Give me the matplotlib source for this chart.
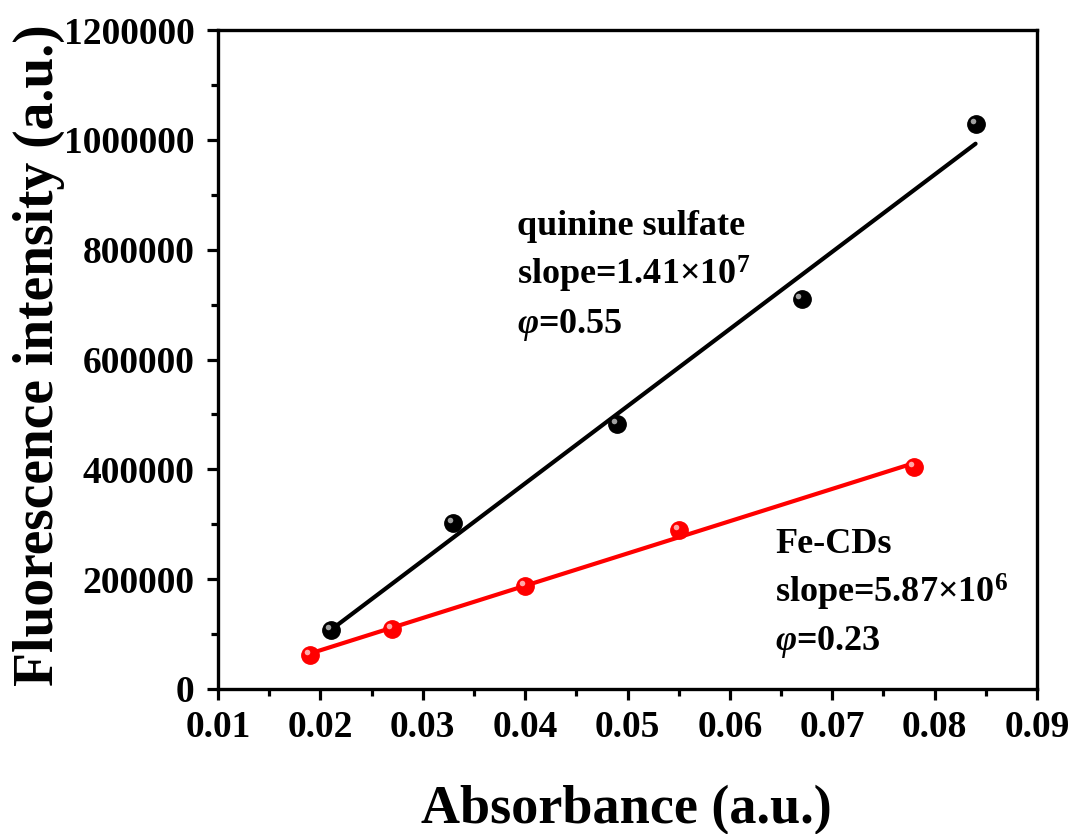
import numpy as np
import matplotlib
matplotlib.use("Agg")
import matplotlib.pyplot as plt
from matplotlib.ticker import AutoMinorLocator
from matplotlib.transforms import ScaledTranslation

qs_abs = [0.021, 0.033, 0.049, 0.067, 0.084]
qs_int = [108000, 302000, 483000, 710000, 1028000]
cd_abs = [0.019, 0.027, 0.040, 0.055, 0.078]
cd_int = [62000, 109000, 188000, 289000, 404000]

x_ticks = [0.01, 0.02, 0.03, 0.04, 0.05, 0.06, 0.07, 0.08, 0.09]
y_ticks = [0, 200000, 400000, 600000, 800000, 1000000, 1200000]

plt.rcParams['font.family'] = ['Liberation Serif', 'DejaVu Serif']
plt.rcParams['mathtext.fontset'] = 'custom'
plt.rcParams['mathtext.rm'] = 'Liberation Serif:bold'
plt.rcParams['mathtext.it'] = 'Liberation Serif:bold:italic'
plt.rcParams['mathtext.bf'] = 'Liberation Serif:bold'

W, H = 1078, 834
fig = plt.figure(figsize=(W / 100, H / 100), dpi=100)
L, R, T, B = 218, 1037, 30, 689
ax = fig.add_axes([L / W, 1 - B / H, (R - L) / W, (B - T) / H])

def draw(xs, ys, color, hl):
    xs = np.array(xs); ys = np.array(ys)
    k, b = np.polyfit(xs, ys, 1)
    xf = np.array([xs.min(), xs.max()])
    ax.plot(xf, k * xf + b, color=color, lw=3, zorder=2, solid_capstyle='round')
    ax.plot(xs, ys, 'o', color=color, ms=12.5, mec=color, zorder=3)
    ax.plot(xs, ys, 'o', color=hl, ms=4, mec='none', zorder=4,
            transform=ax.transData + ScaledTranslation(-2.2 / 72, 2.2 / 72, fig.dpi_scale_trans))

draw(qs_abs, qs_int, 'black', '#a0a0a0')
draw(cd_abs, cd_int, '#ff0000', '#ffa8a8')

ax.set_xlim(0.01, 0.09)
ax.set_ylim(0, 1200000)
ax.set_xticks(x_ticks)
ax.set_yticks(y_ticks)
ax.set_xticklabels([f"{v:.2f}" for v in x_ticks])
ax.set_yticklabels([str(v) for v in y_ticks])
ax.xaxis.set_minor_locator(AutoMinorLocator(2))
ax.yaxis.set_minor_locator(AutoMinorLocator(2))
ax.tick_params(which='major', direction='out', length=8, width=2.3, labelsize=27, top=False, right=False)
ax.tick_params(which='minor', direction='out', length=5, width=2.3, top=False, right=False)
ax.tick_params(axis='x', which='major', pad=7)
ax.tick_params(axis='y', which='major', pad=9)
for lab in ax.get_xticklabels() + ax.get_yticklabels():
    lab.set_fontweight('bold')
for s in ax.spines.values():
    s.set_linewidth(2.4)

ax.set_xlabel('Absorbance (a.u.)', fontsize=39, fontweight='bold')
ax.xaxis.label.set_va('baseline')
ax.xaxis.set_label_coords(0.4988, (B - 823) / (B - T))
ax.set_ylabel('Fluorescence intensity (a.u.)', fontsize=40, fontweight='bold')
ax.yaxis.label.set_va('baseline')
ax.yaxis.set_label_coords((53 - L) / (R - L), (B - 355) / (B - T))

def ty(py):
    return (B - py) / (B - T)

tk = dict(fontsize=26, fontweight='bold', transform=ax.transAxes, ha='left', va='baseline')
x1 = (517 - L) / (R - L)
x2 = (775 - L) / (R - L)
ax.text(x1, ty(235), 'quinine sulfate', **tk)
ax.text(x1, ty(285), r'slope=1.41$\times$10$^{7}$', **tk)
ax.text(x1, ty(333), r'$\varphi$=0.55', **tk)
ax.text(x2, ty(553), 'Fe-CDs', **tk)
ax.text(x2, ty(603), r'slope=5.87$\times$10$^{6}$', **tk)
ax.text(x2, ty(650), r'$\varphi$=0.23', **tk)

fig.savefig('out.png', dpi=100)
